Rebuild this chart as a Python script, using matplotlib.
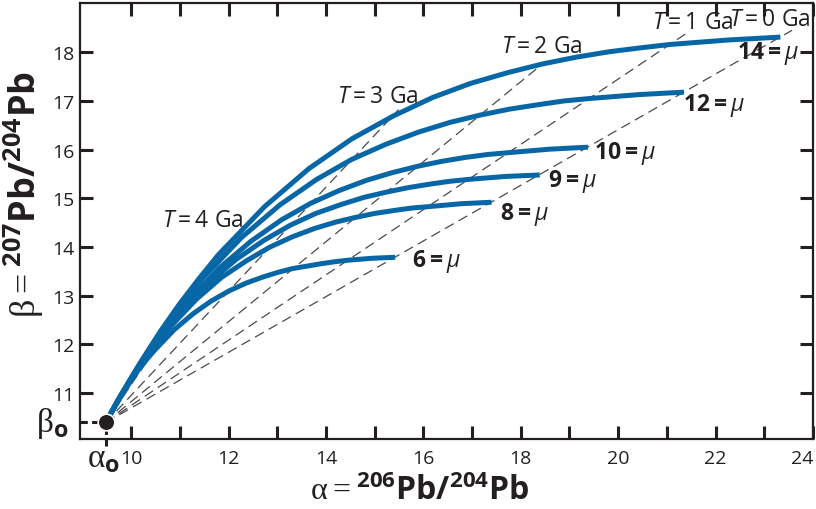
import matplotlib.pyplot as plt

plt.rcParams['font.family'] = ['Open Sans', 'DejaVu Sans']
plt.rcParams['mathtext.fontset'] = 'custom'
plt.rcParams['mathtext.rm'] = 'Liberation Serif'
plt.rcParams['mathtext.it'] = 'Open Sans:italic'
plt.rcParams['mathtext.bf'] = 'Open Sans:bold'
plt.rcParams['mathtext.sf'] = 'Open Sans'

ink = '#231f20'
blue = '#0766a6'

# primordial lead
alpha0, beta0 = 9.48, 10.40

# growth curves, read along each curve from 4.57 Ga down to today
alpha_mu6 = [9.48, 9.61, 9.78, 9.96, 10.13, 10.30, 10.47, 10.88, 11.27, 11.64, 12.01,
             12.36, 12.69, 13.01, 13.32, 13.62, 13.91, 14.19, 14.45, 14.95, 15.42]
beta_mu6 = [10.40, 10.63, 10.93, 11.20, 11.45, 11.67, 11.87, 12.30, 12.63, 12.89, 13.10,
            13.26, 13.38, 13.48, 13.56, 13.61, 13.66, 13.70, 13.73, 13.77, 13.79]
alpha_mu8 = [9.48, 9.65, 9.89, 10.12, 10.35, 10.58, 10.80, 11.34, 11.86, 12.37, 12.85,
             13.31, 13.76, 14.19, 14.61, 15.00, 15.39, 15.75, 16.11, 16.78, 17.40]
beta_mu8 = [10.40, 10.70, 11.10, 11.47, 11.80, 12.09, 12.36, 12.93, 13.38, 13.72, 14.00,
            14.21, 14.38, 14.51, 14.61, 14.69, 14.75, 14.80, 14.83, 14.89, 14.92]
alpha_mu9 = [9.48, 9.67, 9.94, 10.20, 10.46, 10.71, 10.96, 11.57, 12.16, 12.73, 13.27,
             13.79, 14.30, 14.78, 15.25, 15.69, 16.12, 16.54, 16.94, 17.69, 18.39]
beta_mu9 = [10.40, 10.74, 11.19, 11.60, 11.97, 12.31, 12.61, 13.25, 13.75, 14.14, 14.45,
            14.69, 14.87, 15.02, 15.13, 15.22, 15.29, 15.35, 15.39, 15.45, 15.48]
alpha_mu10 = [9.48, 9.69, 9.99, 10.28, 10.57, 10.85, 11.13, 11.81, 12.46, 13.09, 13.69,
              14.27, 14.83, 15.37, 15.89, 16.38, 16.86, 17.32, 17.77, 18.60, 19.38]
beta_mu10 = [10.40, 10.78, 11.28, 11.73, 12.14, 12.52, 12.85, 13.57, 14.12, 14.56, 14.90,
             15.16, 15.37, 15.53, 15.66, 15.76, 15.84, 15.90, 15.94, 16.01, 16.05]
alpha_mu12 = [9.48, 9.73, 10.09, 10.44, 10.78, 11.12, 11.46, 12.27, 13.06, 13.81, 14.53,
              15.23, 15.90, 16.55, 17.17, 17.76, 18.34, 18.89, 19.42, 20.43, 21.35]
beta_mu12 = [10.40, 10.86, 11.46, 12.00, 12.49, 12.94, 13.35, 14.20, 14.87, 15.39, 15.80,
             16.11, 16.36, 16.56, 16.71, 16.83, 16.92, 17.00, 17.05, 17.13, 17.18]
alpha_mu14 = [9.48, 9.77, 10.19, 10.60, 11.00, 11.40, 11.79, 12.74, 13.65, 14.53, 15.38,
              16.19, 16.97, 17.73, 18.45, 19.15, 19.82, 20.46, 21.08, 22.25, 23.33]
beta_mu14 = [10.40, 10.93, 11.63, 12.27, 12.84, 13.36, 13.84, 14.83, 15.61, 16.22, 16.69,
             17.07, 17.36, 17.58, 17.76, 17.90, 18.01, 18.09, 18.16, 18.25, 18.31]

mu_values = [6, 8, 9, 10, 12, 14]
curves_alpha = [alpha_mu6, alpha_mu8, alpha_mu9, alpha_mu10, alpha_mu12, alpha_mu14]
curves_beta = [beta_mu6, beta_mu8, beta_mu9, beta_mu10, beta_mu12, beta_mu14]

# isochrons (Ga) and where each dashed line stops
iso_ages = [0, 1, 2, 3, 4]
iso_end_alpha = [23.57, 21.42, 18.47, 15.49, 11.95]
iso_end_beta = [18.45, 18.40, 17.78, 16.82, 14.08]

fig = plt.figure(figsize=(8.16, 5.10), dpi=100)
ax = fig.add_axes([80 / 816, 1 - 440 / 510, 733 / 816, 436 / 510])

# isochrons
for age, xe, ye in zip(iso_ages, iso_end_alpha, iso_end_beta):
    ax.plot([alpha0, xe], [beta0, ye], color='#4a4a4a', lw=0.9,
            ls=(0, (8, 4.5)), zorder=1)

# growth curves
for xs, ys in zip(curves_alpha, curves_beta):
    ax.plot(xs, ys, color=blue, lw=3.6, solid_capstyle='butt',
            solid_joinstyle='round', zorder=2)

# mu labels next to the curve ends
mu_offsets = [(12, -2), (6, -8), (6, -4), (4, -4), (-1, -9), (-31, -11)]
for mu, xs, ys, off in zip(mu_values, curves_alpha, curves_beta, mu_offsets):
    ax.annotate(r'$\mathbf{%d=}\mu$' % mu, (xs[-1], ys[-1]), xytext=off,
                textcoords='offset points', ha='left', va='center',
                fontsize=16.5, color=ink)

# age labels near the top of each isochron
age_offsets = [(-16, 8), (4, 8), (-1, 12), (-15, 10), (-17, 17)]
for age, xe, ye, off in zip(iso_ages, iso_end_alpha, iso_end_beta, age_offsets):
    ax.annotate(r'$T\mathsf{=%d\ Ga}$' % age, (xe, ye), xytext=off,
                textcoords='offset points', ha='center', va='center',
                fontsize=16.5, color=ink)

# primordial point and its guides to the axes
ax.plot([8.95, alpha0], [beta0, beta0], color=ink,
        lw=2.2, ls=(0, (2.4, 1.4)), clip_on=False, zorder=3)
ax.plot([alpha0, alpha0], [9.92, beta0], color=ink, lw=2.2,
        ls=(0, (2.4, 1.4)), clip_on=False, zorder=3)
ax.plot([alpha0], [beta0], 'o', ms=12, color=ink, mec='white', mew=1.2, zorder=5,
        clip_on=False)

ax.set_xlim(8.95, 24.0)
ax.set_ylim(10.06, 19.01)
ax.set_xticks(range(10, 25, 2))
ax.set_xticks(range(11, 24, 2), minor=True)
ax.set_yticks(range(11, 19))
ax.tick_params(which='both', direction='in', length=9.5, width=2.2, color=ink,
               top=True, right=True, labelsize=14, labelcolor=ink)
ax.tick_params(axis='x', pad=7)
ax.tick_params(axis='y', pad=4)
ax.get_xticklabels()[-1].set_horizontalalignment('right')
for s in ax.spines.values():
    s.set_linewidth(1.6)
    s.set_color(ink)

ax.text(alpha0 - 0.05, 9.66, r'$\mathrm{\alpha}_\mathbf{o}$', ha='center', va='center',
        fontsize=24, color=ink, clip_on=False)
ax.text(8.38, beta0, r'$\mathrm{\beta}_\mathbf{o}$', ha='center', va='center',
        fontsize=24, color=ink, clip_on=False)

fig.text(420 / 816, 1 - 492 / 510,
         r'$\mathrm{\alpha=}{}^{\mathbf{206}}\mathbf{Pb/}{}^{\mathbf{204}}\mathbf{Pb}$',
         ha='center', va='center', fontsize=23, color=ink)
fig.text(24 / 816, 1 - 194 / 510,
         r'$\mathrm{\beta=}{}^{\mathbf{207}}\mathbf{Pb/}{}^{\mathbf{204}}\mathbf{Pb}$',
         ha='center', va='center', rotation=90, fontsize=26, color=ink)

fig.savefig('out.png', dpi=100)
